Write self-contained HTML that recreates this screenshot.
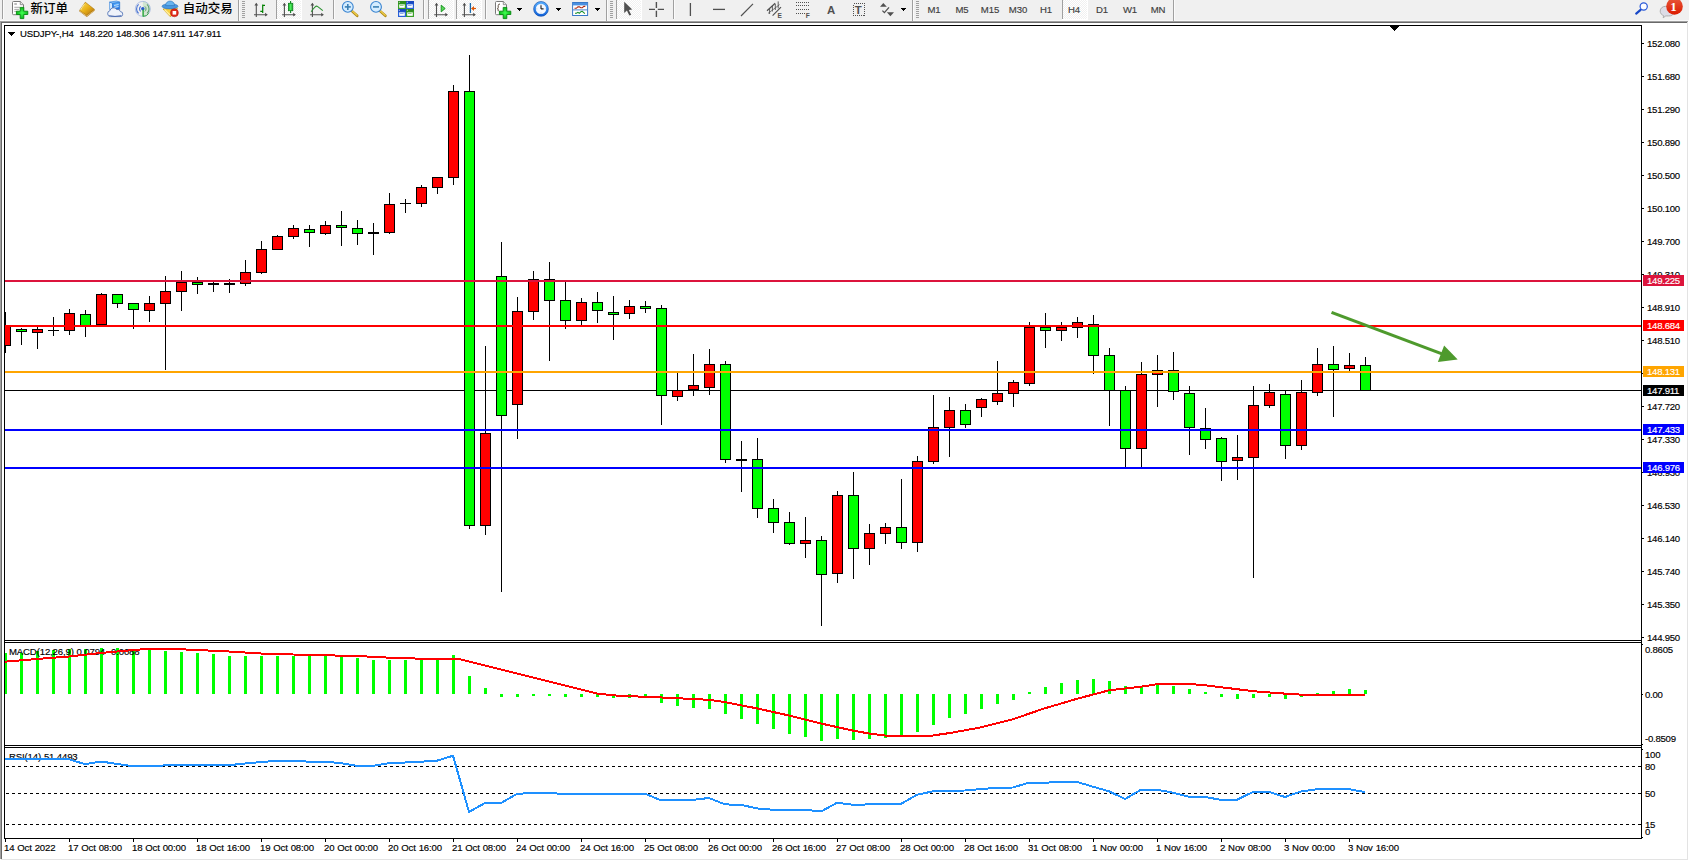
<!DOCTYPE html>
<html lang="zh"><head><meta charset="utf-8"><title>USDJPY-,H4</title>
<style>html,body{margin:0;padding:0;background:#fff;overflow:hidden}#app{position:relative;width:1689px;height:861px;overflow:hidden;background:#fff}svg text{white-space:pre}</style></head>
<body><div id="app">
<svg width="1689" height="861" viewBox="0 0 1689 861" style="position:absolute;left:0;top:0;display:block">
<defs><pattern id="chk" width="2" height="2" patternUnits="userSpaceOnUse"><rect width="2" height="2" fill="#f0f0f0"/><rect width="1" height="1" fill="#fff"/><rect x="1" y="1" width="1" height="1" fill="#fff"/></pattern><linearGradient id="gold" x1="0" y1="0" x2="1" y2="1"><stop offset="0" stop-color="#ffe060"/><stop offset="0.5" stop-color="#e8b018"/><stop offset="1" stop-color="#a86810"/></linearGradient><linearGradient id="grn" x1="0" y1="0" x2="1" y2="0"><stop offset="0" stop-color="#10b020"/><stop offset="0.5" stop-color="#50f060"/><stop offset="1" stop-color="#10a020"/></linearGradient><linearGradient id="redb" x1="0" y1="0" x2="0" y2="1"><stop offset="0" stop-color="#e8583a"/><stop offset="1" stop-color="#dc1a00"/></linearGradient><linearGradient id="blu" x1="0" y1="0" x2="0" y2="1"><stop offset="0" stop-color="#58b0ff"/><stop offset="1" stop-color="#1060d8"/></linearGradient><radialGradient id="plus" cx="0.5" cy="0.5" r="0.6"><stop offset="0" stop-color="#40ff50"/><stop offset="1" stop-color="#00a810"/></radialGradient></defs>
<g shape-rendering="crispEdges">
<rect x="0" y="0" width="1689" height="861" fill="#fff"/>
<rect x="0" y="0" width="1689" height="20" fill="#f0f0f0"/>
<rect x="0" y="20" width="1689" height="1" fill="#f8f8f8"/>
<rect x="0" y="21" width="1688" height="1" fill="#a0a0a0"/>
<rect x="0" y="21" width="1" height="838" fill="#a0a0a0"/>
<rect x="1" y="22" width="1686" height="1" fill="#696969"/>
<rect x="1" y="22" width="1" height="837" fill="#696969"/>
<rect x="1687" y="22" width="1" height="838" fill="#e3e3e3"/>
<rect x="1" y="859" width="1687" height="1" fill="#e3e3e3"/>
<rect x="4" y="25" width="1638" height="1" fill="#000"/>
<rect x="4" y="25" width="1" height="814" fill="#000"/>
<rect x="1641" y="25" width="1" height="814" fill="#000"/>
<rect x="4" y="640" width="1638" height="1" fill="#000"/>
<rect x="4" y="642" width="1638" height="1" fill="#000"/>
<rect x="4" y="745" width="1638" height="1" fill="#000"/>
<rect x="4" y="747" width="1638" height="1" fill="#000"/>
<rect x="4" y="838" width="1638" height="1" fill="#000"/>
<rect x="5" y="641" width="1636" height="1" fill="#fff"/>
<rect x="5" y="746" width="1636" height="1" fill="#fff"/>
<rect x="1390" y="26" width="9" height="1" fill="#000"/>
<rect x="1391" y="27" width="7" height="1" fill="#000"/>
<rect x="1392" y="28" width="5" height="1" fill="#000"/>
<rect x="1393" y="29" width="3" height="1" fill="#000"/>
<rect x="1394" y="30" width="1" height="1" fill="#000"/>
<rect x="8" y="32" width="7" height="1" fill="#000"/>
<rect x="9" y="33" width="5" height="1" fill="#000"/>
<rect x="10" y="34" width="3" height="1" fill="#000"/>
<rect x="11" y="35" width="1" height="1" fill="#000"/>
<rect x="5" y="390" width="1636" height="1" fill="#000"/>
<rect x="5" y="312" width="1" height="41" fill="#000"/>
<rect x="5" y="326" width="6" height="20" fill="#000"/>
<rect x="5" y="327" width="5" height="18" fill="#f00"/>
<rect x="21" y="328" width="1" height="17" fill="#000"/>
<rect x="16" y="329" width="11" height="3" fill="#000"/>
<rect x="17" y="330" width="9" height="1" fill="#0f0"/>
<rect x="37" y="327" width="1" height="22" fill="#000"/>
<rect x="32" y="329" width="11" height="4" fill="#000"/>
<rect x="33" y="330" width="9" height="2" fill="#f00"/>
<rect x="53" y="317" width="1" height="19" fill="#000"/>
<rect x="48" y="330" width="11" height="1" fill="#000"/>
<rect x="69" y="309" width="1" height="26" fill="#000"/>
<rect x="64" y="313" width="11" height="18" fill="#000"/>
<rect x="65" y="314" width="9" height="16" fill="#f00"/>
<rect x="85" y="310" width="1" height="27" fill="#000"/>
<rect x="80" y="314" width="11" height="13" fill="#000"/>
<rect x="81" y="315" width="9" height="11" fill="#0f0"/>
<rect x="101" y="293" width="1" height="32" fill="#000"/>
<rect x="96" y="294" width="11" height="31" fill="#000"/>
<rect x="97" y="295" width="9" height="29" fill="#f00"/>
<rect x="117" y="294" width="1" height="14" fill="#000"/>
<rect x="112" y="294" width="11" height="10" fill="#000"/>
<rect x="113" y="295" width="9" height="8" fill="#0f0"/>
<rect x="133" y="303" width="1" height="26" fill="#000"/>
<rect x="128" y="303" width="11" height="7" fill="#000"/>
<rect x="129" y="304" width="9" height="5" fill="#0f0"/>
<rect x="149" y="296" width="1" height="26" fill="#000"/>
<rect x="144" y="303" width="11" height="8" fill="#000"/>
<rect x="145" y="304" width="9" height="6" fill="#f00"/>
<rect x="165" y="276" width="1" height="94" fill="#000"/>
<rect x="160" y="291" width="11" height="13" fill="#000"/>
<rect x="161" y="292" width="9" height="11" fill="#f00"/>
<rect x="181" y="271" width="1" height="40" fill="#000"/>
<rect x="176" y="282" width="11" height="10" fill="#000"/>
<rect x="177" y="283" width="9" height="8" fill="#f00"/>
<rect x="197" y="277" width="1" height="17" fill="#000"/>
<rect x="192" y="282" width="11" height="3" fill="#000"/>
<rect x="193" y="283" width="9" height="1" fill="#0f0"/>
<rect x="213" y="282" width="1" height="10" fill="#000"/>
<rect x="208" y="283" width="11" height="2" fill="#000"/>
<rect x="229" y="279" width="1" height="14" fill="#000"/>
<rect x="224" y="283" width="11" height="2" fill="#000"/>
<rect x="245" y="260" width="1" height="26" fill="#000"/>
<rect x="240" y="272" width="11" height="12" fill="#000"/>
<rect x="241" y="273" width="9" height="10" fill="#f00"/>
<rect x="261" y="241" width="1" height="33" fill="#000"/>
<rect x="256" y="249" width="11" height="24" fill="#000"/>
<rect x="257" y="250" width="9" height="22" fill="#f00"/>
<rect x="277" y="235" width="1" height="15" fill="#000"/>
<rect x="272" y="236" width="11" height="14" fill="#000"/>
<rect x="273" y="237" width="9" height="12" fill="#f00"/>
<rect x="293" y="225" width="1" height="14" fill="#000"/>
<rect x="288" y="228" width="11" height="9" fill="#000"/>
<rect x="289" y="229" width="9" height="7" fill="#f00"/>
<rect x="309" y="225" width="1" height="22" fill="#000"/>
<rect x="304" y="229" width="11" height="4" fill="#000"/>
<rect x="305" y="230" width="9" height="2" fill="#0f0"/>
<rect x="325" y="221" width="1" height="14" fill="#000"/>
<rect x="320" y="225" width="11" height="9" fill="#000"/>
<rect x="321" y="226" width="9" height="7" fill="#f00"/>
<rect x="341" y="211" width="1" height="35" fill="#000"/>
<rect x="336" y="225" width="11" height="3" fill="#000"/>
<rect x="337" y="226" width="9" height="1" fill="#0f0"/>
<rect x="357" y="220" width="1" height="25" fill="#000"/>
<rect x="352" y="228" width="11" height="6" fill="#000"/>
<rect x="353" y="229" width="9" height="4" fill="#0f0"/>
<rect x="373" y="223" width="1" height="32" fill="#000"/>
<rect x="368" y="232" width="11" height="2" fill="#000"/>
<rect x="389" y="193" width="1" height="41" fill="#000"/>
<rect x="384" y="204" width="11" height="29" fill="#000"/>
<rect x="385" y="205" width="9" height="27" fill="#f00"/>
<rect x="405" y="199" width="1" height="14" fill="#000"/>
<rect x="400" y="203" width="11" height="1" fill="#000"/>
<rect x="421" y="185" width="1" height="22" fill="#000"/>
<rect x="416" y="187" width="11" height="17" fill="#000"/>
<rect x="417" y="188" width="9" height="15" fill="#f00"/>
<rect x="437" y="177" width="1" height="17" fill="#000"/>
<rect x="432" y="177" width="11" height="11" fill="#000"/>
<rect x="433" y="178" width="9" height="9" fill="#f00"/>
<rect x="453" y="85" width="1" height="100" fill="#000"/>
<rect x="448" y="91" width="11" height="87" fill="#000"/>
<rect x="449" y="92" width="9" height="85" fill="#f00"/>
<rect x="469" y="55" width="1" height="474" fill="#000"/>
<rect x="464" y="91" width="11" height="435" fill="#000"/>
<rect x="465" y="92" width="9" height="433" fill="#0f0"/>
<rect x="485" y="346" width="1" height="189" fill="#000"/>
<rect x="480" y="433" width="11" height="93" fill="#000"/>
<rect x="481" y="434" width="9" height="91" fill="#f00"/>
<rect x="501" y="242" width="1" height="350" fill="#000"/>
<rect x="496" y="276" width="11" height="140" fill="#000"/>
<rect x="497" y="277" width="9" height="138" fill="#0f0"/>
<rect x="517" y="297" width="1" height="142" fill="#000"/>
<rect x="512" y="311" width="11" height="94" fill="#000"/>
<rect x="513" y="312" width="9" height="92" fill="#f00"/>
<rect x="533" y="271" width="1" height="49" fill="#000"/>
<rect x="528" y="279" width="11" height="33" fill="#000"/>
<rect x="529" y="280" width="9" height="31" fill="#f00"/>
<rect x="549" y="262" width="1" height="99" fill="#000"/>
<rect x="544" y="279" width="11" height="22" fill="#000"/>
<rect x="545" y="280" width="9" height="20" fill="#0f0"/>
<rect x="565" y="282" width="1" height="47" fill="#000"/>
<rect x="560" y="300" width="11" height="21" fill="#000"/>
<rect x="561" y="301" width="9" height="19" fill="#0f0"/>
<rect x="581" y="298" width="1" height="27" fill="#000"/>
<rect x="576" y="302" width="11" height="19" fill="#000"/>
<rect x="577" y="303" width="9" height="17" fill="#f00"/>
<rect x="597" y="292" width="1" height="31" fill="#000"/>
<rect x="592" y="302" width="11" height="9" fill="#000"/>
<rect x="593" y="303" width="9" height="7" fill="#0f0"/>
<rect x="613" y="296" width="1" height="44" fill="#000"/>
<rect x="608" y="312" width="11" height="3" fill="#000"/>
<rect x="609" y="313" width="9" height="1" fill="#0f0"/>
<rect x="629" y="300" width="1" height="19" fill="#000"/>
<rect x="624" y="306" width="11" height="8" fill="#000"/>
<rect x="625" y="307" width="9" height="6" fill="#f00"/>
<rect x="645" y="301" width="1" height="12" fill="#000"/>
<rect x="640" y="306" width="11" height="3" fill="#000"/>
<rect x="641" y="307" width="9" height="1" fill="#0f0"/>
<rect x="661" y="305" width="1" height="120" fill="#000"/>
<rect x="656" y="308" width="11" height="88" fill="#000"/>
<rect x="657" y="309" width="9" height="86" fill="#0f0"/>
<rect x="677" y="372" width="1" height="29" fill="#000"/>
<rect x="672" y="390" width="11" height="7" fill="#000"/>
<rect x="673" y="391" width="9" height="5" fill="#f00"/>
<rect x="693" y="354" width="1" height="42" fill="#000"/>
<rect x="688" y="385" width="11" height="5" fill="#000"/>
<rect x="689" y="386" width="9" height="3" fill="#f00"/>
<rect x="709" y="349" width="1" height="46" fill="#000"/>
<rect x="704" y="364" width="11" height="24" fill="#000"/>
<rect x="705" y="365" width="9" height="22" fill="#f00"/>
<rect x="725" y="361" width="1" height="102" fill="#000"/>
<rect x="720" y="364" width="11" height="96" fill="#000"/>
<rect x="721" y="365" width="9" height="94" fill="#0f0"/>
<rect x="741" y="441" width="1" height="51" fill="#000"/>
<rect x="736" y="459" width="11" height="2" fill="#000"/>
<rect x="757" y="438" width="1" height="80" fill="#000"/>
<rect x="752" y="459" width="11" height="50" fill="#000"/>
<rect x="753" y="460" width="9" height="48" fill="#0f0"/>
<rect x="773" y="499" width="1" height="34" fill="#000"/>
<rect x="768" y="508" width="11" height="15" fill="#000"/>
<rect x="769" y="509" width="9" height="13" fill="#0f0"/>
<rect x="789" y="512" width="1" height="33" fill="#000"/>
<rect x="784" y="522" width="11" height="22" fill="#000"/>
<rect x="785" y="523" width="9" height="20" fill="#0f0"/>
<rect x="805" y="517" width="1" height="41" fill="#000"/>
<rect x="800" y="540" width="11" height="4" fill="#000"/>
<rect x="801" y="541" width="9" height="2" fill="#f00"/>
<rect x="821" y="536" width="1" height="90" fill="#000"/>
<rect x="816" y="540" width="11" height="35" fill="#000"/>
<rect x="817" y="541" width="9" height="33" fill="#0f0"/>
<rect x="837" y="491" width="1" height="92" fill="#000"/>
<rect x="832" y="495" width="11" height="79" fill="#000"/>
<rect x="833" y="496" width="9" height="77" fill="#f00"/>
<rect x="853" y="472" width="1" height="107" fill="#000"/>
<rect x="848" y="495" width="11" height="54" fill="#000"/>
<rect x="849" y="496" width="9" height="52" fill="#0f0"/>
<rect x="869" y="524" width="1" height="41" fill="#000"/>
<rect x="864" y="533" width="11" height="16" fill="#000"/>
<rect x="865" y="534" width="9" height="14" fill="#f00"/>
<rect x="885" y="523" width="1" height="21" fill="#000"/>
<rect x="880" y="527" width="11" height="7" fill="#000"/>
<rect x="881" y="528" width="9" height="5" fill="#f00"/>
<rect x="901" y="479" width="1" height="70" fill="#000"/>
<rect x="896" y="527" width="11" height="16" fill="#000"/>
<rect x="897" y="528" width="9" height="14" fill="#0f0"/>
<rect x="917" y="456" width="1" height="96" fill="#000"/>
<rect x="912" y="461" width="11" height="82" fill="#000"/>
<rect x="913" y="462" width="9" height="80" fill="#f00"/>
<rect x="933" y="395" width="1" height="69" fill="#000"/>
<rect x="928" y="427" width="11" height="35" fill="#000"/>
<rect x="929" y="428" width="9" height="33" fill="#f00"/>
<rect x="949" y="397" width="1" height="60" fill="#000"/>
<rect x="944" y="410" width="11" height="18" fill="#000"/>
<rect x="945" y="411" width="9" height="16" fill="#f00"/>
<rect x="965" y="404" width="1" height="24" fill="#000"/>
<rect x="960" y="410" width="11" height="15" fill="#000"/>
<rect x="961" y="411" width="9" height="13" fill="#0f0"/>
<rect x="981" y="398" width="1" height="19" fill="#000"/>
<rect x="976" y="399" width="11" height="9" fill="#000"/>
<rect x="977" y="400" width="9" height="7" fill="#f00"/>
<rect x="997" y="361" width="1" height="44" fill="#000"/>
<rect x="992" y="393" width="11" height="9" fill="#000"/>
<rect x="993" y="394" width="9" height="7" fill="#f00"/>
<rect x="1013" y="380" width="1" height="27" fill="#000"/>
<rect x="1008" y="382" width="11" height="12" fill="#000"/>
<rect x="1009" y="383" width="9" height="10" fill="#f00"/>
<rect x="1029" y="322" width="1" height="64" fill="#000"/>
<rect x="1024" y="327" width="11" height="57" fill="#000"/>
<rect x="1025" y="328" width="9" height="55" fill="#f00"/>
<rect x="1045" y="313" width="1" height="35" fill="#000"/>
<rect x="1040" y="327" width="11" height="4" fill="#000"/>
<rect x="1041" y="328" width="9" height="2" fill="#0f0"/>
<rect x="1061" y="322" width="1" height="19" fill="#000"/>
<rect x="1056" y="327" width="11" height="4" fill="#000"/>
<rect x="1057" y="328" width="9" height="2" fill="#f00"/>
<rect x="1077" y="317" width="1" height="21" fill="#000"/>
<rect x="1072" y="322" width="11" height="6" fill="#000"/>
<rect x="1073" y="323" width="9" height="4" fill="#f00"/>
<rect x="1093" y="315" width="1" height="59" fill="#000"/>
<rect x="1088" y="324" width="11" height="32" fill="#000"/>
<rect x="1089" y="325" width="9" height="30" fill="#0f0"/>
<rect x="1109" y="348" width="1" height="78" fill="#000"/>
<rect x="1104" y="355" width="11" height="36" fill="#000"/>
<rect x="1105" y="356" width="9" height="34" fill="#0f0"/>
<rect x="1125" y="386" width="1" height="81" fill="#000"/>
<rect x="1120" y="390" width="11" height="59" fill="#000"/>
<rect x="1121" y="391" width="9" height="57" fill="#0f0"/>
<rect x="1141" y="362" width="1" height="105" fill="#000"/>
<rect x="1136" y="374" width="11" height="75" fill="#000"/>
<rect x="1137" y="375" width="9" height="73" fill="#f00"/>
<rect x="1157" y="355" width="1" height="52" fill="#000"/>
<rect x="1152" y="370" width="11" height="5" fill="#000"/>
<rect x="1153" y="371" width="9" height="3" fill="#f00"/>
<rect x="1173" y="352" width="1" height="48" fill="#000"/>
<rect x="1168" y="370" width="11" height="22" fill="#000"/>
<rect x="1169" y="371" width="9" height="20" fill="#0f0"/>
<rect x="1189" y="386" width="1" height="69" fill="#000"/>
<rect x="1184" y="393" width="11" height="35" fill="#000"/>
<rect x="1185" y="394" width="9" height="33" fill="#0f0"/>
<rect x="1205" y="408" width="1" height="41" fill="#000"/>
<rect x="1200" y="428" width="11" height="12" fill="#000"/>
<rect x="1201" y="429" width="9" height="10" fill="#0f0"/>
<rect x="1221" y="437" width="1" height="44" fill="#000"/>
<rect x="1216" y="438" width="11" height="24" fill="#000"/>
<rect x="1217" y="439" width="9" height="22" fill="#0f0"/>
<rect x="1237" y="435" width="1" height="45" fill="#000"/>
<rect x="1232" y="457" width="11" height="4" fill="#000"/>
<rect x="1233" y="458" width="9" height="2" fill="#f00"/>
<rect x="1253" y="386" width="1" height="192" fill="#000"/>
<rect x="1248" y="405" width="11" height="53" fill="#000"/>
<rect x="1249" y="406" width="9" height="51" fill="#f00"/>
<rect x="1269" y="384" width="1" height="24" fill="#000"/>
<rect x="1264" y="392" width="11" height="14" fill="#000"/>
<rect x="1265" y="393" width="9" height="12" fill="#f00"/>
<rect x="1285" y="391" width="1" height="68" fill="#000"/>
<rect x="1280" y="394" width="11" height="52" fill="#000"/>
<rect x="1281" y="395" width="9" height="50" fill="#0f0"/>
<rect x="1301" y="380" width="1" height="70" fill="#000"/>
<rect x="1296" y="392" width="11" height="54" fill="#000"/>
<rect x="1297" y="393" width="9" height="52" fill="#f00"/>
<rect x="1317" y="348" width="1" height="48" fill="#000"/>
<rect x="1312" y="364" width="11" height="29" fill="#000"/>
<rect x="1313" y="365" width="9" height="27" fill="#f00"/>
<rect x="1333" y="346" width="1" height="71" fill="#000"/>
<rect x="1328" y="364" width="11" height="6" fill="#000"/>
<rect x="1329" y="365" width="9" height="4" fill="#0f0"/>
<rect x="1349" y="353" width="1" height="18" fill="#000"/>
<rect x="1344" y="365" width="11" height="4" fill="#000"/>
<rect x="1345" y="366" width="9" height="2" fill="#f00"/>
<rect x="1365" y="357" width="1" height="34" fill="#000"/>
<rect x="1360" y="365" width="11" height="26" fill="#000"/>
<rect x="1361" y="366" width="9" height="24" fill="#0f0"/>
<rect x="5" y="280" width="1636" height="2" fill="#dc143c"/>
<rect x="5" y="325" width="1636" height="2" fill="#f00"/>
<rect x="5" y="371" width="1636" height="2" fill="#ffa500"/>
<rect x="5" y="429" width="1636" height="2" fill="#00f"/>
<rect x="5" y="467" width="1636" height="2" fill="#00f"/>
<rect x="5" y="653" width="2" height="41" fill="#0f0"/>
<rect x="20" y="653" width="3" height="41" fill="#0f0"/>
<rect x="36" y="651" width="3" height="43" fill="#0f0"/>
<rect x="52" y="650" width="3" height="44" fill="#0f0"/>
<rect x="68" y="649" width="3" height="45" fill="#0f0"/>
<rect x="84" y="649" width="3" height="45" fill="#0f0"/>
<rect x="100" y="648" width="3" height="46" fill="#0f0"/>
<rect x="116" y="648" width="3" height="46" fill="#0f0"/>
<rect x="132" y="649" width="3" height="45" fill="#0f0"/>
<rect x="148" y="650" width="3" height="44" fill="#0f0"/>
<rect x="164" y="651" width="3" height="43" fill="#0f0"/>
<rect x="180" y="652" width="3" height="42" fill="#0f0"/>
<rect x="196" y="653" width="3" height="41" fill="#0f0"/>
<rect x="212" y="654" width="3" height="40" fill="#0f0"/>
<rect x="228" y="656" width="3" height="38" fill="#0f0"/>
<rect x="244" y="656" width="3" height="38" fill="#0f0"/>
<rect x="260" y="656" width="3" height="38" fill="#0f0"/>
<rect x="276" y="656" width="3" height="38" fill="#0f0"/>
<rect x="292" y="656" width="3" height="38" fill="#0f0"/>
<rect x="308" y="656" width="3" height="38" fill="#0f0"/>
<rect x="324" y="656" width="3" height="38" fill="#0f0"/>
<rect x="340" y="657" width="3" height="37" fill="#0f0"/>
<rect x="356" y="658" width="3" height="36" fill="#0f0"/>
<rect x="372" y="660" width="3" height="34" fill="#0f0"/>
<rect x="388" y="660" width="3" height="34" fill="#0f0"/>
<rect x="404" y="660" width="3" height="34" fill="#0f0"/>
<rect x="420" y="660" width="3" height="34" fill="#0f0"/>
<rect x="436" y="660" width="3" height="34" fill="#0f0"/>
<rect x="452" y="655" width="3" height="39" fill="#0f0"/>
<rect x="468" y="676" width="3" height="18" fill="#0f0"/>
<rect x="484" y="688" width="3" height="6" fill="#0f0"/>
<rect x="500" y="694" width="3" height="3" fill="#0f0"/>
<rect x="516" y="694" width="3" height="3" fill="#0f0"/>
<rect x="532" y="694" width="3" height="2" fill="#0f0"/>
<rect x="548" y="694" width="3" height="2" fill="#0f0"/>
<rect x="564" y="694" width="3" height="3" fill="#0f0"/>
<rect x="580" y="694" width="3" height="3" fill="#0f0"/>
<rect x="596" y="694" width="3" height="3" fill="#0f0"/>
<rect x="612" y="694" width="3" height="4" fill="#0f0"/>
<rect x="628" y="694" width="3" height="4" fill="#0f0"/>
<rect x="644" y="694" width="3" height="4" fill="#0f0"/>
<rect x="660" y="694" width="3" height="9" fill="#0f0"/>
<rect x="676" y="694" width="3" height="12" fill="#0f0"/>
<rect x="692" y="694" width="3" height="14" fill="#0f0"/>
<rect x="708" y="694" width="3" height="15" fill="#0f0"/>
<rect x="724" y="694" width="3" height="20" fill="#0f0"/>
<rect x="740" y="694" width="3" height="25" fill="#0f0"/>
<rect x="756" y="694" width="3" height="30" fill="#0f0"/>
<rect x="772" y="694" width="3" height="35" fill="#0f0"/>
<rect x="788" y="694" width="3" height="40" fill="#0f0"/>
<rect x="804" y="694" width="3" height="43" fill="#0f0"/>
<rect x="820" y="694" width="3" height="47" fill="#0f0"/>
<rect x="836" y="694" width="3" height="45" fill="#0f0"/>
<rect x="852" y="694" width="3" height="46" fill="#0f0"/>
<rect x="868" y="694" width="3" height="45" fill="#0f0"/>
<rect x="884" y="694" width="3" height="44" fill="#0f0"/>
<rect x="900" y="694" width="3" height="41" fill="#0f0"/>
<rect x="916" y="694" width="3" height="38" fill="#0f0"/>
<rect x="932" y="694" width="3" height="31" fill="#0f0"/>
<rect x="948" y="694" width="3" height="24" fill="#0f0"/>
<rect x="964" y="694" width="3" height="20" fill="#0f0"/>
<rect x="980" y="694" width="3" height="15" fill="#0f0"/>
<rect x="996" y="694" width="3" height="10" fill="#0f0"/>
<rect x="1012" y="694" width="3" height="6" fill="#0f0"/>
<rect x="1028" y="692" width="3" height="2" fill="#0f0"/>
<rect x="1044" y="687" width="3" height="7" fill="#0f0"/>
<rect x="1060" y="683" width="3" height="11" fill="#0f0"/>
<rect x="1076" y="680" width="3" height="14" fill="#0f0"/>
<rect x="1092" y="679" width="3" height="15" fill="#0f0"/>
<rect x="1108" y="681" width="3" height="13" fill="#0f0"/>
<rect x="1124" y="686" width="3" height="8" fill="#0f0"/>
<rect x="1140" y="686" width="3" height="8" fill="#0f0"/>
<rect x="1156" y="685" width="3" height="9" fill="#0f0"/>
<rect x="1172" y="686" width="3" height="8" fill="#0f0"/>
<rect x="1188" y="689" width="3" height="5" fill="#0f0"/>
<rect x="1204" y="692" width="3" height="2" fill="#0f0"/>
<rect x="1220" y="694" width="3" height="3" fill="#0f0"/>
<rect x="1236" y="694" width="3" height="5" fill="#0f0"/>
<rect x="1252" y="694" width="3" height="4" fill="#0f0"/>
<rect x="1268" y="694" width="3" height="3" fill="#0f0"/>
<rect x="1284" y="694" width="3" height="5" fill="#0f0"/>
<rect x="1300" y="694" width="3" height="3" fill="#0f0"/>
<rect x="1316" y="693" width="3" height="1" fill="#0f0"/>
<rect x="1332" y="691" width="3" height="3" fill="#0f0"/>
<rect x="1348" y="689" width="3" height="5" fill="#0f0"/>
<rect x="1364" y="690" width="3" height="4" fill="#0f0"/>
<path d="M6 766.5H1641" stroke="#000" stroke-width="1" stroke-dasharray="3 3" fill="none"/>
<path d="M6 793.5H1641" stroke="#000" stroke-width="1" stroke-dasharray="3 3" fill="none"/>
<path d="M6 824.5H1641" stroke="#000" stroke-width="1" stroke-dasharray="3 3" fill="none"/>
<rect x="5" y="839" width="1" height="3" fill="#000"/>
<rect x="69" y="839" width="1" height="3" fill="#000"/>
<rect x="133" y="839" width="1" height="3" fill="#000"/>
<rect x="197" y="839" width="1" height="3" fill="#000"/>
<rect x="261" y="839" width="1" height="3" fill="#000"/>
<rect x="325" y="839" width="1" height="3" fill="#000"/>
<rect x="389" y="839" width="1" height="3" fill="#000"/>
<rect x="453" y="839" width="1" height="3" fill="#000"/>
<rect x="517" y="839" width="1" height="3" fill="#000"/>
<rect x="581" y="839" width="1" height="3" fill="#000"/>
<rect x="645" y="839" width="1" height="3" fill="#000"/>
<rect x="709" y="839" width="1" height="3" fill="#000"/>
<rect x="773" y="839" width="1" height="3" fill="#000"/>
<rect x="837" y="839" width="1" height="3" fill="#000"/>
<rect x="901" y="839" width="1" height="3" fill="#000"/>
<rect x="965" y="839" width="1" height="3" fill="#000"/>
<rect x="1029" y="839" width="1" height="3" fill="#000"/>
<rect x="1093" y="839" width="1" height="3" fill="#000"/>
<rect x="1157" y="839" width="1" height="3" fill="#000"/>
<rect x="1221" y="839" width="1" height="3" fill="#000"/>
<rect x="1285" y="839" width="1" height="3" fill="#000"/>
<rect x="1349" y="839" width="1" height="3" fill="#000"/>
<rect x="1642" y="43" width="2" height="1" fill="#000"/>
<rect x="1642" y="76" width="2" height="1" fill="#000"/>
<rect x="1642" y="109" width="2" height="1" fill="#000"/>
<rect x="1642" y="142" width="2" height="1" fill="#000"/>
<rect x="1642" y="175" width="2" height="1" fill="#000"/>
<rect x="1642" y="208" width="2" height="1" fill="#000"/>
<rect x="1642" y="241" width="2" height="1" fill="#000"/>
<rect x="1642" y="274" width="2" height="1" fill="#000"/>
<rect x="1642" y="307" width="2" height="1" fill="#000"/>
<rect x="1642" y="340" width="2" height="1" fill="#000"/>
<rect x="1642" y="373" width="2" height="1" fill="#000"/>
<rect x="1642" y="406" width="2" height="1" fill="#000"/>
<rect x="1642" y="439" width="2" height="1" fill="#000"/>
<rect x="1642" y="472" width="2" height="1" fill="#000"/>
<rect x="1642" y="505" width="2" height="1" fill="#000"/>
<rect x="1642" y="538" width="2" height="1" fill="#000"/>
<rect x="1642" y="571" width="2" height="1" fill="#000"/>
<rect x="1642" y="604" width="2" height="1" fill="#000"/>
<rect x="1642" y="637" width="2" height="1" fill="#000"/>
<rect x="1642" y="644" width="1" height="1" fill="#000"/>
<rect x="1642" y="744" width="1" height="1" fill="#000"/>
<rect x="1642" y="749" width="1" height="1" fill="#000"/>
<rect x="1642" y="837" width="1" height="1" fill="#000"/>
<rect x="1642" y="694" width="1" height="1" fill="#000"/>
</g>
<text x="9" y="654.8" fill="#000" stroke="#000" stroke-width="0.15" style="font-family:'Liberation Sans',sans-serif;font-size:9.6px;letter-spacing:-0.15px;word-spacing:0.4px">MACD(12,26,9) 0.0794 -0.0088</text>
<text x="9" y="759.8" fill="#000" stroke="#000" stroke-width="0.15" style="font-family:'Liberation Sans',sans-serif;font-size:9.6px;letter-spacing:-0.15px;word-spacing:0.4px">RSI(14) 51.4493</text>
<polyline points="5.0,661.7 37.0,659.0 69.0,656.5 101.0,653.0 133.0,650.0 150.0,648.8 165.0,648.7 181.0,649.3 197.0,650.0 229.0,651.5 261.0,653.5 293.0,654.5 325.0,655.3 358.0,656.0 389.0,657.7 421.0,658.7 458.0,658.7 598.0,693.7 614.0,695.4 645.0,696.8 660.0,697.4 709.0,699.8 724.5,702.0 757.0,708.4 789.0,715.5 821.0,723.5 853.0,730.6 869.5,733.6 885.6,735.6 932.0,735.6 950.0,733.0 980.0,727.6 1012.0,719.5 1044.5,708.4 1077.0,698.8 1109.0,690.3 1141.0,686.7 1159.0,683.9 1188.5,683.9 1205.6,685.3 1221.7,687.3 1254.0,691.3 1286.0,693.7 1301.0,694.6 1365.0,694.9" fill="none" stroke="#f00" stroke-width="2" shape-rendering="crispEdges" stroke-linejoin="round"/>
<polyline points="5.0,759.1 21.0,759.1 37.0,759.1 53.0,759.1 69.0,759.3 85.0,764.2 101.0,761.5 117.0,764.0 133.0,766.2 149.0,766.2 165.0,765.4 181.0,765.2 197.0,765.2 213.0,765.2 229.0,765.2 245.0,763.5 261.0,762.0 277.0,760.9 293.0,760.7 309.0,761.7 325.0,761.7 341.0,763.1 357.0,765.8 373.0,765.8 389.0,763.1 405.0,762.5 421.0,761.7 437.0,760.7 453.0,755.7 469.0,811.9 485.0,803.0 501.0,803.0 517.0,793.9 533.0,792.9 549.0,793.3 565.0,793.7 581.0,793.7 597.0,793.7 613.0,793.7 629.0,793.7 645.0,793.7 661.0,800.4 677.0,800.4 693.0,799.8 709.0,798.0 725.0,804.4 741.0,804.8 757.0,808.4 773.0,809.8 789.0,809.8 805.0,809.8 821.0,811.5 837.0,802.8 853.0,804.8 869.0,804.4 885.0,803.8 901.0,803.8 917.0,794.8 933.0,791.3 949.0,790.9 965.0,790.5 981.0,789.0 997.0,787.9 1013.0,787.5 1029.0,782.7 1045.0,782.7 1061.0,781.9 1077.0,781.9 1093.0,786.7 1109.0,791.3 1125.0,799.0 1141.0,789.7 1157.0,789.7 1173.0,792.7 1189.0,796.8 1205.0,797.0 1221.0,799.8 1237.0,799.8 1253.0,791.9 1269.0,791.9 1285.0,797.0 1301.0,791.5 1317.0,789.2 1333.0,789.2 1349.0,789.2 1365.0,792.1" fill="none" stroke="#1e90ff" stroke-width="2" shape-rendering="crispEdges" stroke-linejoin="round"/>
<g fill="#4e9a2d" stroke="none"><path d="M1330.9 313.8 L1332.1 311 L1442.6 352.4 L1441.4 355.2 Z"/><path d="M1457.7 359.5 L1444.1 345.5 L1437.9 361.9 Z"/></g>
<text x="20" y="37" fill="#000" stroke="#000" stroke-width="0.15" style="font-family:'Liberation Sans',sans-serif;font-size:9.6px;letter-spacing:-0.15px;word-spacing:0.4px">USDJPY-,H4&#160;&#160;148.220 148.306 147.911 147.911</text>
<text x="1647" y="47" fill="#000" stroke="#000" stroke-width="0.15" style="font-family:'Liberation Sans',sans-serif;font-size:9.6px;letter-spacing:-0.26px">152.080</text>
<text x="1647" y="80" fill="#000" stroke="#000" stroke-width="0.15" style="font-family:'Liberation Sans',sans-serif;font-size:9.6px;letter-spacing:-0.26px">151.680</text>
<text x="1647" y="113" fill="#000" stroke="#000" stroke-width="0.15" style="font-family:'Liberation Sans',sans-serif;font-size:9.6px;letter-spacing:-0.26px">151.290</text>
<text x="1647" y="146" fill="#000" stroke="#000" stroke-width="0.15" style="font-family:'Liberation Sans',sans-serif;font-size:9.6px;letter-spacing:-0.26px">150.890</text>
<text x="1647" y="179" fill="#000" stroke="#000" stroke-width="0.15" style="font-family:'Liberation Sans',sans-serif;font-size:9.6px;letter-spacing:-0.26px">150.500</text>
<text x="1647" y="212" fill="#000" stroke="#000" stroke-width="0.15" style="font-family:'Liberation Sans',sans-serif;font-size:9.6px;letter-spacing:-0.26px">150.100</text>
<text x="1647" y="245" fill="#000" stroke="#000" stroke-width="0.15" style="font-family:'Liberation Sans',sans-serif;font-size:9.6px;letter-spacing:-0.26px">149.700</text>
<text x="1647" y="278" fill="#000" stroke="#000" stroke-width="0.15" style="font-family:'Liberation Sans',sans-serif;font-size:9.6px;letter-spacing:-0.26px">149.310</text>
<text x="1647" y="311" fill="#000" stroke="#000" stroke-width="0.15" style="font-family:'Liberation Sans',sans-serif;font-size:9.6px;letter-spacing:-0.26px">148.910</text>
<text x="1647" y="344" fill="#000" stroke="#000" stroke-width="0.15" style="font-family:'Liberation Sans',sans-serif;font-size:9.6px;letter-spacing:-0.26px">148.510</text>
<text x="1647" y="377" fill="#000" stroke="#000" stroke-width="0.15" style="font-family:'Liberation Sans',sans-serif;font-size:9.6px;letter-spacing:-0.26px">148.120</text>
<text x="1647" y="410" fill="#000" stroke="#000" stroke-width="0.15" style="font-family:'Liberation Sans',sans-serif;font-size:9.6px;letter-spacing:-0.26px">147.720</text>
<text x="1647" y="443" fill="#000" stroke="#000" stroke-width="0.15" style="font-family:'Liberation Sans',sans-serif;font-size:9.6px;letter-spacing:-0.26px">147.330</text>
<text x="1647" y="476" fill="#000" stroke="#000" stroke-width="0.15" style="font-family:'Liberation Sans',sans-serif;font-size:9.6px;letter-spacing:-0.26px">146.930</text>
<text x="1647" y="509" fill="#000" stroke="#000" stroke-width="0.15" style="font-family:'Liberation Sans',sans-serif;font-size:9.6px;letter-spacing:-0.26px">146.530</text>
<text x="1647" y="542" fill="#000" stroke="#000" stroke-width="0.15" style="font-family:'Liberation Sans',sans-serif;font-size:9.6px;letter-spacing:-0.26px">146.140</text>
<text x="1647" y="575" fill="#000" stroke="#000" stroke-width="0.15" style="font-family:'Liberation Sans',sans-serif;font-size:9.6px;letter-spacing:-0.26px">145.740</text>
<text x="1647" y="608" fill="#000" stroke="#000" stroke-width="0.15" style="font-family:'Liberation Sans',sans-serif;font-size:9.6px;letter-spacing:-0.26px">145.350</text>
<text x="1647" y="641" fill="#000" stroke="#000" stroke-width="0.15" style="font-family:'Liberation Sans',sans-serif;font-size:9.6px;letter-spacing:-0.26px">144.950</text>
<rect x="1643" y="275" width="41" height="11" fill="#dc143c" shape-rendering="crispEdges"/>
<text x="1647" y="284" fill="#fff" stroke="#fff" stroke-width="0.15" style="font-family:'Liberation Sans',sans-serif;font-size:9.6px;letter-spacing:-0.26px">149.225</text>
<rect x="1643" y="320" width="41" height="11" fill="#f00" shape-rendering="crispEdges"/>
<text x="1647" y="329" fill="#fff" stroke="#fff" stroke-width="0.15" style="font-family:'Liberation Sans',sans-serif;font-size:9.6px;letter-spacing:-0.26px">148.684</text>
<rect x="1643" y="366" width="41" height="11" fill="#ffa500" shape-rendering="crispEdges"/>
<text x="1647" y="375" fill="#fff" stroke="#fff" stroke-width="0.15" style="font-family:'Liberation Sans',sans-serif;font-size:9.6px;letter-spacing:-0.26px">148.131</text>
<rect x="1643" y="385" width="41" height="11" fill="#000" shape-rendering="crispEdges"/>
<text x="1647" y="394" fill="#fff" stroke="#fff" stroke-width="0.15" style="font-family:'Liberation Sans',sans-serif;font-size:9.6px;letter-spacing:-0.26px">147.911</text>
<rect x="1643" y="424" width="41" height="11" fill="#00f" shape-rendering="crispEdges"/>
<text x="1647" y="433" fill="#fff" stroke="#fff" stroke-width="0.15" style="font-family:'Liberation Sans',sans-serif;font-size:9.6px;letter-spacing:-0.26px">147.433</text>
<rect x="1643" y="462" width="41" height="11" fill="#00f" shape-rendering="crispEdges"/>
<text x="1647" y="471" fill="#fff" stroke="#fff" stroke-width="0.15" style="font-family:'Liberation Sans',sans-serif;font-size:9.6px;letter-spacing:-0.26px">146.976</text>
<text x="1645" y="652.5" fill="#000" stroke="#000" stroke-width="0.15" style="font-family:'Liberation Sans',sans-serif;font-size:9.6px;letter-spacing:-0.26px">0.8605</text>
<text x="1645" y="697.5" fill="#000" stroke="#000" stroke-width="0.15" style="font-family:'Liberation Sans',sans-serif;font-size:9.6px;letter-spacing:-0.26px">0.00</text>
<text x="1645" y="741.7" fill="#000" stroke="#000" stroke-width="0.15" style="font-family:'Liberation Sans',sans-serif;font-size:9.6px;letter-spacing:-0.26px">-0.8509</text>
<text x="1645" y="758" fill="#000" stroke="#000" stroke-width="0.15" style="font-family:'Liberation Sans',sans-serif;font-size:9.6px;letter-spacing:-0.26px">100</text>
<text x="1645" y="770" fill="#000" stroke="#000" stroke-width="0.15" style="font-family:'Liberation Sans',sans-serif;font-size:9.6px;letter-spacing:-0.26px">80</text>
<text x="1645" y="797" fill="#000" stroke="#000" stroke-width="0.15" style="font-family:'Liberation Sans',sans-serif;font-size:9.6px;letter-spacing:-0.26px">50</text>
<text x="1645" y="828" fill="#000" stroke="#000" stroke-width="0.15" style="font-family:'Liberation Sans',sans-serif;font-size:9.6px;letter-spacing:-0.26px">15</text>
<text x="1645" y="835" fill="#000" stroke="#000" stroke-width="0.15" style="font-family:'Liberation Sans',sans-serif;font-size:9.6px;letter-spacing:-0.26px">0</text>
<text x="4" y="851" fill="#000" stroke="#000" stroke-width="0.15" style="font-family:'Liberation Sans',sans-serif;font-size:9.6px;letter-spacing:-0.15px;word-spacing:0.4px">14 Oct 2022</text>
<text x="68" y="851" fill="#000" stroke="#000" stroke-width="0.15" style="font-family:'Liberation Sans',sans-serif;font-size:9.6px;letter-spacing:-0.15px;word-spacing:0.4px">17 Oct 08:00</text>
<text x="132" y="851" fill="#000" stroke="#000" stroke-width="0.15" style="font-family:'Liberation Sans',sans-serif;font-size:9.6px;letter-spacing:-0.15px;word-spacing:0.4px">18 Oct 00:00</text>
<text x="196" y="851" fill="#000" stroke="#000" stroke-width="0.15" style="font-family:'Liberation Sans',sans-serif;font-size:9.6px;letter-spacing:-0.15px;word-spacing:0.4px">18 Oct 16:00</text>
<text x="260" y="851" fill="#000" stroke="#000" stroke-width="0.15" style="font-family:'Liberation Sans',sans-serif;font-size:9.6px;letter-spacing:-0.15px;word-spacing:0.4px">19 Oct 08:00</text>
<text x="324" y="851" fill="#000" stroke="#000" stroke-width="0.15" style="font-family:'Liberation Sans',sans-serif;font-size:9.6px;letter-spacing:-0.15px;word-spacing:0.4px">20 Oct 00:00</text>
<text x="388" y="851" fill="#000" stroke="#000" stroke-width="0.15" style="font-family:'Liberation Sans',sans-serif;font-size:9.6px;letter-spacing:-0.15px;word-spacing:0.4px">20 Oct 16:00</text>
<text x="452" y="851" fill="#000" stroke="#000" stroke-width="0.15" style="font-family:'Liberation Sans',sans-serif;font-size:9.6px;letter-spacing:-0.15px;word-spacing:0.4px">21 Oct 08:00</text>
<text x="516" y="851" fill="#000" stroke="#000" stroke-width="0.15" style="font-family:'Liberation Sans',sans-serif;font-size:9.6px;letter-spacing:-0.15px;word-spacing:0.4px">24 Oct 00:00</text>
<text x="580" y="851" fill="#000" stroke="#000" stroke-width="0.15" style="font-family:'Liberation Sans',sans-serif;font-size:9.6px;letter-spacing:-0.15px;word-spacing:0.4px">24 Oct 16:00</text>
<text x="644" y="851" fill="#000" stroke="#000" stroke-width="0.15" style="font-family:'Liberation Sans',sans-serif;font-size:9.6px;letter-spacing:-0.15px;word-spacing:0.4px">25 Oct 08:00</text>
<text x="708" y="851" fill="#000" stroke="#000" stroke-width="0.15" style="font-family:'Liberation Sans',sans-serif;font-size:9.6px;letter-spacing:-0.15px;word-spacing:0.4px">26 Oct 00:00</text>
<text x="772" y="851" fill="#000" stroke="#000" stroke-width="0.15" style="font-family:'Liberation Sans',sans-serif;font-size:9.6px;letter-spacing:-0.15px;word-spacing:0.4px">26 Oct 16:00</text>
<text x="836" y="851" fill="#000" stroke="#000" stroke-width="0.15" style="font-family:'Liberation Sans',sans-serif;font-size:9.6px;letter-spacing:-0.15px;word-spacing:0.4px">27 Oct 08:00</text>
<text x="900" y="851" fill="#000" stroke="#000" stroke-width="0.15" style="font-family:'Liberation Sans',sans-serif;font-size:9.6px;letter-spacing:-0.15px;word-spacing:0.4px">28 Oct 00:00</text>
<text x="964" y="851" fill="#000" stroke="#000" stroke-width="0.15" style="font-family:'Liberation Sans',sans-serif;font-size:9.6px;letter-spacing:-0.15px;word-spacing:0.4px">28 Oct 16:00</text>
<text x="1028" y="851" fill="#000" stroke="#000" stroke-width="0.15" style="font-family:'Liberation Sans',sans-serif;font-size:9.6px;letter-spacing:-0.15px;word-spacing:0.4px">31 Oct 08:00</text>
<text x="1092" y="851" fill="#000" stroke="#000" stroke-width="0.15" style="font-family:'Liberation Sans',sans-serif;font-size:9.6px;letter-spacing:-0.15px;word-spacing:0.4px">1 Nov 00:00</text>
<text x="1156" y="851" fill="#000" stroke="#000" stroke-width="0.15" style="font-family:'Liberation Sans',sans-serif;font-size:9.6px;letter-spacing:-0.15px;word-spacing:0.4px">1 Nov 16:00</text>
<text x="1220" y="851" fill="#000" stroke="#000" stroke-width="0.15" style="font-family:'Liberation Sans',sans-serif;font-size:9.6px;letter-spacing:-0.15px;word-spacing:0.4px">2 Nov 08:00</text>
<text x="1284" y="851" fill="#000" stroke="#000" stroke-width="0.15" style="font-family:'Liberation Sans',sans-serif;font-size:9.6px;letter-spacing:-0.15px;word-spacing:0.4px">3 Nov 00:00</text>
<text x="1348" y="851" fill="#000" stroke="#000" stroke-width="0.15" style="font-family:'Liberation Sans',sans-serif;font-size:9.6px;letter-spacing:-0.15px;word-spacing:0.4px">3 Nov 16:00</text>
<g shape-rendering="crispEdges">
<rect x="2" y="0" width="1" height="19" fill="#a0a0a0"/>
<rect x="3" y="0" width="1" height="19" fill="#fbfbfb"/>
<rect x="238" y="0" width="1" height="21" fill="#a0a0a0"/>
<rect x="239" y="0" width="1" height="21" fill="#fbfbfb"/>
<rect x="242" y="1" width="3" height="1" fill="#a0a0a0"/>
<rect x="242" y="3" width="3" height="1" fill="#a0a0a0"/>
<rect x="242" y="5" width="3" height="1" fill="#a0a0a0"/>
<rect x="242" y="7" width="3" height="1" fill="#a0a0a0"/>
<rect x="242" y="9" width="3" height="1" fill="#a0a0a0"/>
<rect x="242" y="11" width="3" height="1" fill="#a0a0a0"/>
<rect x="242" y="13" width="3" height="1" fill="#a0a0a0"/>
<rect x="242" y="15" width="3" height="1" fill="#a0a0a0"/>
<rect x="242" y="17" width="3" height="1" fill="#a0a0a0"/>
<rect x="276" y="0" width="1" height="19" fill="#a0a0a0"/>
<rect x="277" y="0" width="24" height="19" fill="url(#chk)"/>
<rect x="301" y="0" width="1" height="20" fill="#fff"/>
<rect x="276" y="19" width="25" height="1" fill="#fff"/>
<rect x="333" y="0" width="1" height="19" fill="#a0a0a0"/>
<rect x="334" y="0" width="1" height="19" fill="#fbfbfb"/>
<rect x="423" y="0" width="1" height="19" fill="#a0a0a0"/>
<rect x="424" y="0" width="1" height="19" fill="#fbfbfb"/>
<rect x="428" y="0" width="1" height="19" fill="#a0a0a0"/>
<rect x="429" y="0" width="24" height="19" fill="url(#chk)"/>
<rect x="453" y="0" width="1" height="20" fill="#fff"/>
<rect x="428" y="19" width="25" height="1" fill="#fff"/>
<rect x="456" y="0" width="1" height="19" fill="#a0a0a0"/>
<rect x="457" y="0" width="24" height="19" fill="url(#chk)"/>
<rect x="481" y="0" width="1" height="20" fill="#fff"/>
<rect x="456" y="19" width="25" height="1" fill="#fff"/>
<rect x="485" y="0" width="1" height="19" fill="#a0a0a0"/>
<rect x="486" y="0" width="1" height="19" fill="#fbfbfb"/>
<rect x="606" y="0" width="1" height="21" fill="#a0a0a0"/>
<rect x="607" y="0" width="1" height="21" fill="#fbfbfb"/>
<rect x="610" y="1" width="3" height="1" fill="#a0a0a0"/>
<rect x="610" y="3" width="3" height="1" fill="#a0a0a0"/>
<rect x="610" y="5" width="3" height="1" fill="#a0a0a0"/>
<rect x="610" y="7" width="3" height="1" fill="#a0a0a0"/>
<rect x="610" y="9" width="3" height="1" fill="#a0a0a0"/>
<rect x="610" y="11" width="3" height="1" fill="#a0a0a0"/>
<rect x="610" y="13" width="3" height="1" fill="#a0a0a0"/>
<rect x="610" y="15" width="3" height="1" fill="#a0a0a0"/>
<rect x="610" y="17" width="3" height="1" fill="#a0a0a0"/>
<rect x="616" y="0" width="1" height="19" fill="#a0a0a0"/>
<rect x="617" y="0" width="24" height="19" fill="url(#chk)"/>
<rect x="641" y="0" width="1" height="20" fill="#fff"/>
<rect x="616" y="19" width="25" height="1" fill="#fff"/>
<rect x="673" y="0" width="1" height="19" fill="#a0a0a0"/>
<rect x="674" y="0" width="1" height="19" fill="#fbfbfb"/>
<rect x="912" y="0" width="1" height="21" fill="#a0a0a0"/>
<rect x="913" y="0" width="1" height="21" fill="#fbfbfb"/>
<rect x="916" y="1" width="3" height="1" fill="#a0a0a0"/>
<rect x="916" y="3" width="3" height="1" fill="#a0a0a0"/>
<rect x="916" y="5" width="3" height="1" fill="#a0a0a0"/>
<rect x="916" y="7" width="3" height="1" fill="#a0a0a0"/>
<rect x="916" y="9" width="3" height="1" fill="#a0a0a0"/>
<rect x="916" y="11" width="3" height="1" fill="#a0a0a0"/>
<rect x="916" y="13" width="3" height="1" fill="#a0a0a0"/>
<rect x="916" y="15" width="3" height="1" fill="#a0a0a0"/>
<rect x="916" y="17" width="3" height="1" fill="#a0a0a0"/>
<rect x="1062" y="0" width="1" height="19" fill="#a0a0a0"/>
<rect x="1063" y="0" width="24" height="19" fill="url(#chk)"/>
<rect x="1087" y="0" width="1" height="20" fill="#fff"/>
<rect x="1062" y="19" width="25" height="1" fill="#fff"/>
<rect x="1173" y="0" width="1" height="21" fill="#a0a0a0"/>
<rect x="1174" y="0" width="1" height="21" fill="#fbfbfb"/>
</g>
<g shape-rendering="crispEdges">
<rect x="517" y="8" width="5" height="1" fill="#000"/>
<rect x="518" y="9" width="3" height="1" fill="#000"/>
<rect x="519" y="10" width="1" height="1" fill="#000"/>
</g>
<g shape-rendering="crispEdges">
<rect x="556" y="8" width="5" height="1" fill="#000"/>
<rect x="557" y="9" width="3" height="1" fill="#000"/>
<rect x="558" y="10" width="1" height="1" fill="#000"/>
</g>
<g shape-rendering="crispEdges">
<rect x="595" y="8" width="5" height="1" fill="#000"/>
<rect x="596" y="9" width="3" height="1" fill="#000"/>
<rect x="597" y="10" width="1" height="1" fill="#000"/>
</g>
<g shape-rendering="crispEdges">
<rect x="901" y="8" width="5" height="1" fill="#000"/>
<rect x="902" y="9" width="3" height="1" fill="#000"/>
<rect x="903" y="10" width="1" height="1" fill="#000"/>
</g>
<g><path d="M12.5 2.5a1 1 0 0 1 1-1h6.8l3.2 3.2v9a1 1 0 0 1 -1 1h-9a1 1 0 0 1 -1-1z" fill="#fff" stroke="#7a7a7a" stroke-width="1"/><path d="M20.3 1.5v3.2h3.2" fill="#e8e8e8" stroke="#7a7a7a" stroke-width="0.8"/><rect x="14.3" y="3.4" width="2.6" height="1.2" fill="#909090"/><path d="M14.3 7.3h5.7M14.3 9.4h4.7M14.3 11.4h2.5" stroke="#a0a0a0" stroke-width="0.9"/><path d="M20.2 7.4h3.6v3.8h4v3.3h-4v4.1h-3.6v-4.1h-3.8v-3.3h3.8z" fill="url(#plus)" stroke="#068a10" stroke-width="0.9"/></g>
<g><path d="M495.5 2.5a1 1 0 0 1 1-1h6.8l3.2 3.2v9a1 1 0 0 1 -1 1h-9a1 1 0 0 1 -1-1z" fill="#fff" stroke="#7a7a7a" stroke-width="1"/><path d="M503.3 1.5v3.2h3.2" fill="#e8e8e8" stroke="#7a7a7a" stroke-width="0.8"/><path d="M503.2 7.4h3.6v3.8h4v3.3h-4v4.1h-3.6v-4.1h-3.8v-3.3h3.8z" fill="url(#plus)" stroke="#068a10" stroke-width="0.9"/></g>
<path d="M500 4q-1.8 0-1.8 1.6v2.2q0 0.9 -0.8 0.9q0.8 0 0.8 0.9v1.6" fill="none" stroke="#504030" stroke-width="0.9"/>
<g><path d="M85.3 2.2 L94.9 10.6 L86.8 17 L79.2 11.2 Q81.5 8 85.3 2.2 Z" fill="#a86c10"/><path d="M85.3 2.2 L94.6 9.4 L86.6 15.2 L79.6 10.4 Q82 7 85.3 2.2 Z" fill="url(#gold)" stroke="#b07c14" stroke-width="0.6" stroke-linejoin="round"/><path d="M79.8 11.2 L86.7 16 L94.6 10.3" fill="none" stroke="#f4d890" stroke-width="0.7"/><path d="M84.6 3.8 Q82 7.4 80.6 10" stroke="#fff4b0" stroke-width="0.9" fill="none" opacity="0.85"/></g>
<g><path d="M109.6 2.1 L112.6 3.2 L112.6 11 L109.6 9.6 Z" fill="#d8ecff" stroke="#2a7ad8" stroke-width="0.6"/><path d="M112.6 3.2 L119.7 2.1 L119.7 9.6 L112.6 11 Z" fill="url(#blu)" stroke="#1a64c8" stroke-width="0.6"/><path d="M109.6 2.1 L116.5 1 L119.7 2.1 L112.6 3.2 Z" fill="#8cc8ff" stroke="#2a7ad8" stroke-width="0.6"/><path d="M114 5.4 L118.6 4.6M114 7.4L118.6 6.6" stroke="#e0f2ff" stroke-width="0.9"/><path d="M110.4 16.6 a3 3 0 0 1 -0.5 -5.9 a3.7 3.7 0 0 1 6.8 -1.2 a3 3 0 0 1 3.7 2.1 a2.5 2.5 0 0 1 -0.3 5 z" fill="#eef2fa" stroke="#5878b8" stroke-width="0.9"/><path d="M109.2 15.6 q5.6 1.6 12 0" fill="none" stroke="#3c5ca8" stroke-width="0.8"/></g>
<g fill="none"><path d="M142.8 1.3 A7.6 7.6 0 0 1 142.8 16.5 Z" fill="#b8dcb8" opacity="0.55"/><circle cx="142.8" cy="8.9" r="7.5" stroke="#8ca4dc" stroke-width="0.8" opacity="0.75"/><path d="M138.6 4.4 A6 6 0 0 0 138.6 13.4" stroke="#4470d4" stroke-width="1.1"/><path d="M140.7 6.4 A3.3 3.3 0 0 0 140.7 11.4" stroke="#4470d4" stroke-width="1.1"/><path d="M147 4.4 A6 6 0 0 1 147 13.4" stroke="#5ea06e" stroke-width="1.1"/><path d="M144.9 6.4 A3.3 3.3 0 0 1 144.9 11.4" stroke="#5ea06e" stroke-width="1"/><circle cx="142.8" cy="8.7" r="1.7" fill="#2858d0"/><path d="M143.1 9.6V16.6" stroke="#18a028" stroke-width="1.3"/><path d="M143.1 16.4 Q147 16.4 148.6 13.4" stroke="#38a848" stroke-width="1"/></g>
<g><path d="M163 9 L177.6 8.2 L170.4 16.8 Z" fill="#f8d040" stroke="#c89818" stroke-width="0.7"/><path d="M164.5 9.5 L170 15" stroke="#fff0a0" stroke-width="1.2"/><ellipse cx="170" cy="6.3" rx="8" ry="2.6" fill="#4a98e0" stroke="#2a70b8" stroke-width="0.6"/><path d="M165.6 5.6 a4.5 4.6 0 0 1 9 0 z" fill="#68b4f0" stroke="#2a70b8" stroke-width="0.6"/><circle cx="174.4" cy="12.8" r="4" fill="#e02818" stroke="#b01808" stroke-width="0.5"/><rect x="172.6" y="11" width="3.6" height="3.6" fill="#fff"/></g>
<g stroke="#505050" stroke-width="1.1" fill="none"><path d="M256.3 3.8V17M254.0 14.7H266.6"/></g><g fill="#505050"><path d="M256.3 2.8l-1.9 2.7h3.8zM267.8 14.7l-2.7-1.9v3.8z"/></g>
<path d="M262.7 4.4V12.9M262.7 5.4H265M260.3 11.4H262.7" stroke="#008000" stroke-width="1.2" fill="none"/>
<g stroke="#505050" stroke-width="1.1" fill="none"><path d="M284.4 3.8V17M282.09999999999997 14.7H294.7"/></g><g fill="#505050"><path d="M284.4 2.8l-1.9 2.7h3.8zM295.9 14.7l-2.7-1.9v3.8z"/></g>
<path d="M290.6 1V12.9" stroke="#108020" stroke-width="1.1"/><rect x="288.4" y="3.3" width="4.4" height="7.4" fill="url(#grn)" stroke="#108020" stroke-width="0.8"/>
<g stroke="#505050" stroke-width="1.1" fill="none"><path d="M312.4 3.8V17M310.09999999999997 14.7H322.7"/></g><g fill="#505050"><path d="M312.4 2.8l-1.9 2.7h3.8zM323.9 14.7l-2.7-1.9v3.8z"/></g>
<path d="M311.2 11.8 Q315.5 5 317.4 6.4 T322.8 10.7" stroke="#2a9030" stroke-width="1.1" fill="none"/>
<g><path d="M351.40000000000003 10.6 L357.2 15.8" stroke="#b08818" stroke-width="2.6" stroke-linecap="round"/><path d="M351.6 10.4 L357.0 15.3" stroke="#f0d048" stroke-width="1.2" stroke-linecap="round"/><circle cx="347.8" cy="6.9" r="5.4" fill="#d4ecff" stroke="#3a84d0" stroke-width="1.1"/><path d="M344.8 6.9H350.8" stroke="#3c80b4" stroke-width="1.6"/><path d="M347.8 3.9V9.9" stroke="#3c80b4" stroke-width="1.6"/></g>
<g><path d="M379.6 10.6 L385.4 15.8" stroke="#b08818" stroke-width="2.6" stroke-linecap="round"/><path d="M379.8 10.4 L385.2 15.3" stroke="#f0d048" stroke-width="1.2" stroke-linecap="round"/><circle cx="376" cy="6.9" r="5.4" fill="#d4ecff" stroke="#3a84d0" stroke-width="1.1"/><path d="M373 6.9H379" stroke="#3c80b4" stroke-width="1.6"/></g>
<rect x="398" y="1" width="8" height="8" fill="#3aa028"/><rect x="398" y="1" width="8" height="2.6" fill="#2c8c1c"/><rect x="399.2" y="4.4" width="5.6" height="3.4" fill="#fff"/><rect x="400" y="5" width="3.6" height="0.9" fill="#3aa028" opacity="0.6"/><rect x="398.8" y="1.8" width="1" height="1" fill="#fff" opacity="0.8"/>
<rect x="406" y="1" width="8" height="8" fill="#2860d8"/><rect x="406" y="1" width="8" height="2.6" fill="#1848c0"/><rect x="407.2" y="4.4" width="5.6" height="3.4" fill="#fff"/><rect x="408" y="5" width="3.6" height="0.9" fill="#2860d8" opacity="0.6"/><rect x="406.8" y="1.8" width="1" height="1" fill="#fff" opacity="0.8"/>
<rect x="398" y="9" width="8" height="8" fill="#2860d8"/><rect x="398" y="9" width="8" height="2.6" fill="#1848c0"/><rect x="399.2" y="12.4" width="5.6" height="3.4" fill="#fff"/><rect x="400" y="13" width="3.6" height="0.9" fill="#2860d8" opacity="0.6"/><rect x="398.8" y="9.8" width="1" height="1" fill="#fff" opacity="0.8"/>
<rect x="406" y="9" width="8" height="8" fill="#3aa028"/><rect x="406" y="9" width="8" height="2.6" fill="#2c8c1c"/><rect x="407.2" y="12.4" width="5.6" height="3.4" fill="#fff"/><rect x="408" y="13" width="3.6" height="0.9" fill="#3aa028" opacity="0.6"/><rect x="406.8" y="9.8" width="1" height="1" fill="#fff" opacity="0.8"/>
<g stroke="#505050" stroke-width="1.1" fill="none"><path d="M436.5 3.8V17M434.2 14.7H446.8"/></g><g fill="#505050"><path d="M436.5 2.8l-1.9 2.7h3.8zM448.0 14.7l-2.7-1.9v3.8z"/></g>
<path d="M441.2 5.2V11.8L445.2 8.5Z" fill="#58d858" stroke="#109018" stroke-width="0.9"/>
<g stroke="#505050" stroke-width="1.1" fill="none"><path d="M464.4 3.8V17M462.09999999999997 14.7H474.7"/></g><g fill="#505050"><path d="M464.4 2.8l-1.9 2.7h3.8zM475.9 14.7l-2.7-1.9v3.8z"/></g>
<path d="M470.4 3V12.9" stroke="#1868a8" stroke-width="1.3"/><path d="M471.6 8.5H476" stroke="#e05808" stroke-width="1.2"/><path d="M471.2 8.5l2.8-2.4v4.8z" fill="#e05808"/>
<g><circle cx="541" cy="8.9" r="7.4" fill="url(#blu)"/><circle cx="541" cy="8.9" r="7.4" fill="none" stroke="#0c48a8" stroke-width="0.6"/><circle cx="541" cy="8.9" r="5.2" fill="#f4f8ff"/><path d="M541 8.9V5.2M541 8.9H543.6" stroke="#202020" stroke-width="1.1"/><path d="M541 4.4v0.7M541 12.7v0.7M536.5 8.9h0.7M544.8 8.9h0.7" stroke="#8090a8" stroke-width="0.7"/></g>
<g><rect x="572.6" y="2.5" width="15" height="13" fill="#fff" stroke="#3878c8" stroke-width="1"/><rect x="573" y="3" width="14.2" height="2.4" fill="#4a90e0"/><path d="M573 9.9H587.2" stroke="#3878c8" stroke-width="0.9"/><path d="M574.5 8.3h1.8l1.6-1.4h1.6l1.2 0.8h1.6l1.6-1.3h1.4" stroke="#b02810" stroke-width="1.1" fill="none"/><path d="M575 13.3h1.5l1.4-0.9 1.4 0.9 1.6-1.6 1.3-0.4 1.6 1.3 1 1" stroke="#189028" stroke-width="1.1" fill="none"/></g>
<path d="M624.2 1.8V12.9L626.9 10.6L629.3 15.6L631.2 14.7L628.8 9.9L632.2 9.4Z" fill="#505050"/>
<path d="M656.4 2.1V8M656.4 10.8V17M649 9.4H655M657.8 9.4H664" stroke="#505050" stroke-width="1.4" fill="none"/>
<path d="M690.4 3V16" stroke="#505050" stroke-width="1.3"/><path d="M713 9.4H725" stroke="#505050" stroke-width="1.3"/><path d="M741 16L753 3.9" stroke="#505050" stroke-width="1.15"/>
<g stroke="#505050" fill="none"><path d="M767 10.7L775.2 3.2M772.6 15.6L781 7.1" stroke-width="1.2"/><path d="M769.6 8.2V14M772.4 5.8V11.5M775.3 4V10M778.2 1.4V8.4" stroke-width="0.9"/><path d="M768 13.4L779.6 4.6" stroke-width="0.7"/></g>
<text x="777.6" y="17.8" fill="#505050" stroke="#505050" stroke-width="0" style="font-family:'Liberation Sans',sans-serif;font-size:6.6px;font-weight:bold">E</text>
<path d="M796 2.7H809M796 5.5H809M796 9.4H809M796 13.4H805" stroke="#505050" stroke-width="1" stroke-dasharray="1 1" shape-rendering="crispEdges"/>
<text x="805.8" y="17.8" fill="#505050" stroke="#505050" stroke-width="0" style="font-family:'Liberation Sans',sans-serif;font-size:6.6px;font-weight:bold">F</text>
<text x="826.9" y="13.9" fill="#505050" stroke="#505050" stroke-width="0" style="font-family:'Liberation Sans',sans-serif;font-size:11.4px;font-weight:bold">A</text>
<rect x="853.5" y="3.5" width="11" height="12" fill="none" stroke="#505050" stroke-width="1" stroke-dasharray="1 1" shape-rendering="crispEdges"/>
<text x="854.8" y="13.6" fill="#505050" stroke="#505050" stroke-width="0" style="font-family:'Liberation Sans',sans-serif;font-size:11.4px;font-weight:bold">T</text>
<g fill="#505050"><path d="M883.3 3L880 6.8H886.8Z"/><path d="M890.4 16.2L886.8 12.2H894Z"/></g><path d="M882.4 10.6L884.4 12.6L889 7.4" stroke="#505050" stroke-width="1.3" fill="none"/>
<text x="934" y="13" text-anchor="middle" fill="#404040" stroke="#404040" stroke-width="0.15" style="font-family:'Liberation Sans',sans-serif;font-size:9.6px;letter-spacing:-0.1px">M1</text>
<text x="962" y="13" text-anchor="middle" fill="#404040" stroke="#404040" stroke-width="0.15" style="font-family:'Liberation Sans',sans-serif;font-size:9.6px;letter-spacing:-0.1px">M5</text>
<text x="990" y="13" text-anchor="middle" fill="#404040" stroke="#404040" stroke-width="0.15" style="font-family:'Liberation Sans',sans-serif;font-size:9.6px;letter-spacing:-0.1px">M15</text>
<text x="1018" y="13" text-anchor="middle" fill="#404040" stroke="#404040" stroke-width="0.15" style="font-family:'Liberation Sans',sans-serif;font-size:9.6px;letter-spacing:-0.1px">M30</text>
<text x="1046" y="13" text-anchor="middle" fill="#404040" stroke="#404040" stroke-width="0.15" style="font-family:'Liberation Sans',sans-serif;font-size:9.6px;letter-spacing:-0.1px">H1</text>
<text x="1074" y="13" text-anchor="middle" fill="#404040" stroke="#404040" stroke-width="0.15" style="font-family:'Liberation Sans',sans-serif;font-size:9.6px;letter-spacing:-0.1px">H4</text>
<text x="1102" y="13" text-anchor="middle" fill="#404040" stroke="#404040" stroke-width="0.15" style="font-family:'Liberation Sans',sans-serif;font-size:9.6px;letter-spacing:-0.1px">D1</text>
<text x="1130" y="13" text-anchor="middle" fill="#404040" stroke="#404040" stroke-width="0.15" style="font-family:'Liberation Sans',sans-serif;font-size:9.6px;letter-spacing:-0.1px">W1</text>
<text x="1158" y="13" text-anchor="middle" fill="#404040" stroke="#404040" stroke-width="0.15" style="font-family:'Liberation Sans',sans-serif;font-size:9.6px;letter-spacing:-0.1px">MN</text>
<g><path d="M1640.6 9.8L1636.2 13.6" stroke="#1848c8" stroke-width="2.2" stroke-linecap="round"/><circle cx="1643.7" cy="6.5" r="3.6" fill="#fcfcff" stroke="#2858d8" stroke-width="1.2"/></g>
<g><path d="M1665.6 6.3c-3 0-5.4 2-5.4 4.8c0 2.2 1.4 3.8 3.4 4.5l-0.4 2.2l2.6-1.9c0.6 0.1 5 0.1 5.4-0.2c2-0.8 3-2.4 3-4.6c0-2.8-2.4-4.8-5.4-4.8z" fill="#dcdce6" stroke="#a8a8a8" stroke-width="0.9"/><circle cx="1674.5" cy="6.4" r="8.3" fill="url(#redb)"/></g>
<text x="1673.6" y="11" text-anchor="middle" fill="#fff" style="font-family:'Liberation Serif',serif;font-size:13px;font-weight:bold">1</text>
<text x="30.4" y="12.8" fill="#000" style="font-family:'Liberation Sans','Noto Sans CJK SC',sans-serif;font-size:12.5px;font-weight:500">新订单</text>
<text x="182.8" y="12.8" fill="#000" style="font-family:'Liberation Sans','Noto Sans CJK SC',sans-serif;font-size:12.5px;font-weight:500">自动交易</text>
</svg>
</div></body></html>
